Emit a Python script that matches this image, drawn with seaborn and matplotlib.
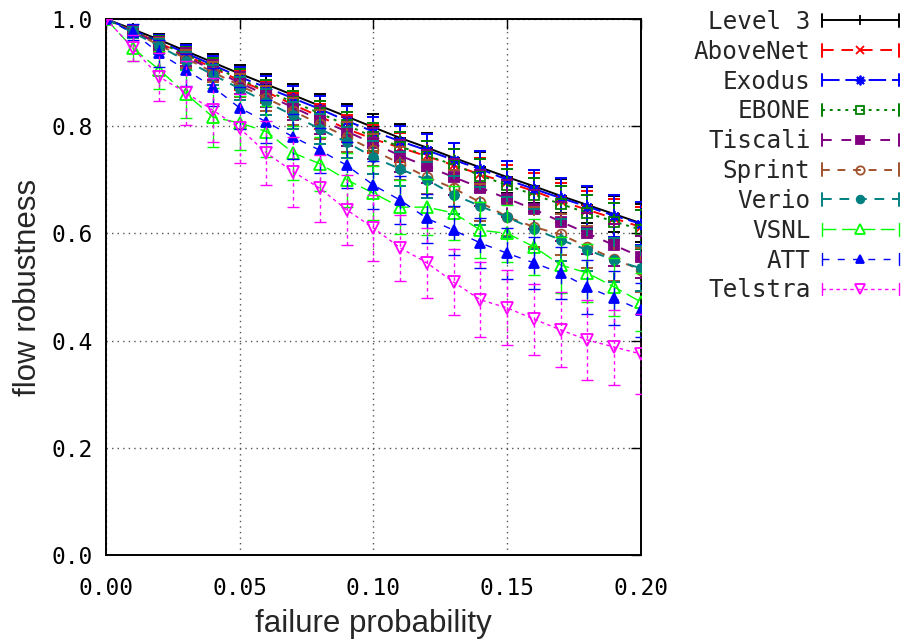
import numpy as np
import pandas as pd
import matplotlib
matplotlib.use("Agg")
import matplotlib.pyplot as plt
import seaborn as sns
from matplotlib.lines import Line2D
from matplotlib.legend_handler import HandlerLine2D

x = [0.00, 0.01, 0.02, 0.03, 0.04, 0.05, 0.06, 0.07, 0.08, 0.09, 0.10,
     0.11, 0.12, 0.13, 0.14, 0.15, 0.16, 0.17, 0.18, 0.19, 0.20]

names = ["Level 3", "AboveNet", "Exodus", "EBONE", "Tiscali",
         "Sprint", "Verio", "VSNL", "ATT", "Telstra"]

level3 = [1.0, 0.981, 0.961, 0.940, 0.919, 0.898, 0.878, 0.858, 0.838, 0.818, 0.798,
          0.778, 0.760, 0.741, 0.723, 0.705, 0.688, 0.670, 0.653, 0.636, 0.619]
abovenet = [1.0, 0.978, 0.955, 0.932, 0.909, 0.885, 0.864, 0.840, 0.818, 0.795, 0.776,
            0.760, 0.744, 0.727, 0.710, 0.695, 0.679, 0.660, 0.644, 0.628, 0.612]
exodus = [1.0, 0.979, 0.958, 0.936, 0.914, 0.892, 0.872, 0.852, 0.832, 0.810, 0.790,
          0.772, 0.755, 0.737, 0.720, 0.700, 0.683, 0.666, 0.650, 0.633, 0.618]
ebone = [1.0, 0.978, 0.956, 0.933, 0.911, 0.888, 0.866, 0.845, 0.824, 0.802, 0.780,
         0.762, 0.745, 0.728, 0.708, 0.690, 0.672, 0.655, 0.638, 0.622, 0.607]
tiscali = [1.0, 0.977, 0.953, 0.929, 0.905, 0.881, 0.858, 0.835, 0.812, 0.790, 0.768,
           0.745, 0.725, 0.705, 0.685, 0.665, 0.645, 0.622, 0.600, 0.578, 0.556]
sprint = [1.0, 0.976, 0.951, 0.926, 0.901, 0.876, 0.852, 0.828, 0.804, 0.780, 0.755,
          0.730, 0.705, 0.684, 0.658, 0.631, 0.612, 0.598, 0.575, 0.552, 0.532]
verio = [1.0, 0.975, 0.949, 0.922, 0.896, 0.870, 0.845, 0.820, 0.795, 0.770, 0.742,
         0.720, 0.700, 0.672, 0.651, 0.630, 0.608, 0.588, 0.569, 0.550, 0.535]
vsnl = [1.0, 0.946, 0.905, 0.860, 0.817, 0.806, 0.790, 0.750, 0.730, 0.700, 0.675,
        0.649, 0.649, 0.638, 0.606, 0.600, 0.575, 0.541, 0.526, 0.500, 0.472]
att = [1.0, 0.975, 0.936, 0.905, 0.873, 0.834, 0.808, 0.780, 0.755, 0.727, 0.690,
       0.662, 0.628, 0.606, 0.582, 0.563, 0.545, 0.526, 0.500, 0.479, 0.457]
telstra = [1.0, 0.946, 0.892, 0.862, 0.830, 0.796, 0.750, 0.715, 0.684, 0.644, 0.610,
           0.573, 0.545, 0.509, 0.476, 0.461, 0.440, 0.420, 0.401, 0.388, 0.375]

level3_err = [0.0, 0.008, 0.011, 0.013, 0.015, 0.017, 0.019, 0.020, 0.022, 0.023, 0.025,
              0.026, 0.027, 0.028, 0.029, 0.030, 0.031, 0.032, 0.033, 0.034, 0.035]
abovenet_err = [0.0, 0.009, 0.012, 0.014, 0.016, 0.018, 0.020, 0.022, 0.023, 0.025, 0.026,
                0.027, 0.028, 0.030, 0.031, 0.032, 0.033, 0.034, 0.035, 0.036, 0.037]
exodus_err = [0.0, 0.009, 0.012, 0.015, 0.017, 0.019, 0.021, 0.023, 0.025, 0.027, 0.028,
              0.029, 0.031, 0.032, 0.033, 0.035, 0.036, 0.037, 0.038, 0.039, 0.040]
ebone_err = [0.0, 0.009, 0.012, 0.014, 0.016, 0.018, 0.020, 0.021, 0.023, 0.024, 0.026,
             0.027, 0.028, 0.029, 0.030, 0.031, 0.032, 0.033, 0.034, 0.035, 0.036]
tiscali_err = [0.0, 0.010, 0.013, 0.016, 0.018, 0.020, 0.022, 0.024, 0.026, 0.027, 0.029,
               0.030, 0.031, 0.033, 0.034, 0.035, 0.036, 0.037, 0.038, 0.039, 0.040]
sprint_err = [0.0, 0.010, 0.014, 0.017, 0.019, 0.021, 0.023, 0.025, 0.027, 0.028, 0.030,
              0.031, 0.032, 0.034, 0.035, 0.036, 0.037, 0.038, 0.039, 0.040, 0.041]
verio_err = [0.0, 0.010, 0.014, 0.017, 0.019, 0.022, 0.024, 0.026, 0.028, 0.029, 0.031,
             0.032, 0.034, 0.035, 0.036, 0.037, 0.038, 0.039, 0.040, 0.041, 0.042]
vsnl_err = [0.0, 0.025, 0.035, 0.045, 0.055, 0.050, 0.048, 0.050, 0.050, 0.050, 0.050,
            0.050, 0.052, 0.050, 0.052, 0.053, 0.052, 0.053, 0.054, 0.055, 0.055]
att_err = [0.0, 0.015, 0.025, 0.030, 0.035, 0.040, 0.040, 0.042, 0.042, 0.043, 0.045,
           0.045, 0.046, 0.046, 0.047, 0.048, 0.048, 0.049, 0.050, 0.050, 0.050]
telstra_err = [0.0, 0.025, 0.045, 0.060, 0.060, 0.065, 0.060, 0.065, 0.062, 0.065, 0.062,
               0.062, 0.065, 0.062, 0.070, 0.070, 0.066, 0.070, 0.075, 0.070, 0.075]

values = [level3, abovenet, exodus, ebone, tiscali, sprint, verio, vsnl, att, telstra]
errors = [level3_err, abovenet_err, exodus_err, ebone_err, tiscali_err,
          sprint_err, verio_err, vsnl_err, att_err, telstra_err]

colors = ["#000000", "#ff0000", "#0000ff", "#008000", "#800080",
          "#a0522d", "#008080", "#00ff00", "#0000ff", "#ff00ff"]
markers = ["+", "x", (8, 2, 0), "s", "s", "o", "o", "^", "^", "v"]
filled = [True, True, True, False, True, False, True, False, True, False]
dashes = [None, (6, 4), (9, 3), (1.5, 2.5), (5, 5), (4, 4), (5, 4), (10, 4), (5, 6), (2.5, 2.5)]
lws = [1.4, 1.4, 1.4, 1.4, 1.4, 1.4, 1.4, 1.0, 1.0, 1.0]
msizes = [8, 7, 8, 7, 6.5, 7, 6.5, 8, 7, 8]

sns.set_style("white")
plt.rcParams["font.family"] = ["DejaVu Sans Mono"]

fig = plt.figure(figsize=(9.02, 6.42), dpi=100)
ax = fig.add_axes([0.1175, 0.1355, 0.5931, 0.8349])

rows = []
for n, v in zip(names, values):
    for xi, yi in zip(x, v):
        rows.append({"series": n, "x": xi, "y": yi})
df = pd.DataFrame(rows)

handles = []
for i, n in enumerate(names):
    sub = df[df["series"] == n]
    ls = "-" if dashes[i] is None else (0, dashes[i])
    mfc = colors[i] if filled[i] else "none"
    sns.lineplot(data=sub, x="x", y="y", ax=ax, color=colors[i], lw=lws[i],
                 linestyle=ls, marker=markers[i], markersize=msizes[i],
                 markerfacecolor=mfc, markeredgecolor=colors[i],
                 markeredgewidth=1.3, legend=False, zorder=3 + i)
    eb = ax.errorbar(x, values[i], yerr=errors[i], fmt="none", ecolor=colors[i],
                     elinewidth=lws[i], capsize=4.5, capthick=lws[i], zorder=3 + i)
    for lc in eb.lines[2]:
        lc.set_linestyle(ls)
    handles.append(Line2D([], [], color=colors[i], lw=lws[i], linestyle=ls,
                          marker=markers[i], markersize=msizes[i] - 1,
                          markerfacecolor=mfc, markeredgecolor=colors[i],
                          markeredgewidth=1.3))


class CapHandler(HandlerLine2D):
    def create_artists(self, legend, orig_handle, xdescent, ydescent,
                       width, height, fontsize, trans):
        arts = super().create_artists(legend, orig_handle, xdescent, ydescent,
                                      width, height, fontsize, trans)
        yc = (height - ydescent) / 2
        h = 4.5
        for xx in (-xdescent, -xdescent + width):
            cap = Line2D([xx, xx], [yc - h, yc + h], color=orig_handle.get_color(),
                         lw=orig_handle.get_linewidth(), transform=trans)
            arts.append(cap)
        return arts


ax.set_xlim(0, 0.20)
ax.set_ylim(0, 1.0)
ax.set_xticks([0.0, 0.05, 0.10, 0.15, 0.20])
ax.set_yticks([0.0, 0.2, 0.4, 0.6, 0.8, 1.0])
ax.set_xticklabels(["0.00", "0.05", "0.10", "0.15", "0.20"])
ax.set_yticklabels(["0.0", "0.2", "0.4", "0.6", "0.8", "1.0"])
ax.tick_params(direction="in", length=7, width=1, top=True, right=True,
               labelsize=16.5, colors="black")
ax.tick_params(axis="x", pad=16)
ax.tick_params(axis="y", pad=9.5)
ax.grid(True, linestyle=(0, (1, 3)), color="#555555", lw=1)
for s in ax.spines.values():
    s.set_color("black")
    s.set_linewidth(1.4)

ax.set_xlabel("failure probability", family=["Liberation Sans"], fontsize=22.5, labelpad=6)
ax.set_ylabel("flow robustness", family=["Liberation Sans"], fontsize=22.5, labelpad=6)

leg = fig.legend(handles=handles, labels=names, loc="upper right",
                 bbox_to_anchor=(0.997, 0.9845), frameon=False, markerfirst=False,
                 fontsize=17.5, handlelength=3.2, handletextpad=0.45, labelspacing=0.24,
                 borderpad=0, borderaxespad=0, handler_map={Line2D: CapHandler()})

fig.savefig("out.png", dpi=100)
